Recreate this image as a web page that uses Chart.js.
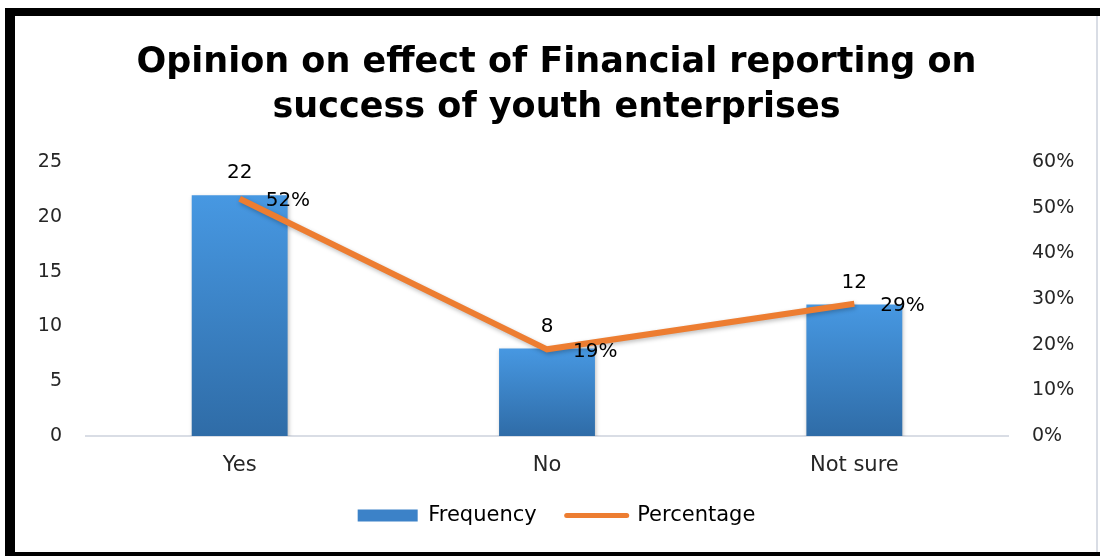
<!DOCTYPE html>
<html>
<head>
<meta charset="utf-8">
<script src="https://cdn.jsdelivr.net/npm/chart.js@4.4.1/dist/chart.umd.min.js"></script>
<style>
  html, body { margin: 0; padding: 0; background: #fff; }
  #wrap { position: relative; width: 1100px; height: 556px; }
</style>
</head>
<body>
<div id="wrap"><canvas id="opinionChart"></canvas></div>
<script>
const categories = ["Yes", "No", "Not sure"];
const frequency = [22, 8, 12];
const percentage = [52, 19, 29];
const freqTicks = { min: 0, max: 25, step: 5 };
const pctTicks = { min: 0, max: 60, step: 10 };

const FONT = "'DejaVu Sans', sans-serif";

// black frame round the chart
const framePlugin = {
  id: "frame",
  beforeDraw(chart) {
    const c = chart.ctx;
    c.save();
    c.fillStyle = "#fff";
    c.fillRect(0, 0, chart.width, chart.height);
    c.fillStyle = "#d9dde5";
    c.fillRect(1096, 16, 2, 536);
    c.fillStyle = "#000";
    c.fillRect(5, 8, chart.width - 5, 8);
    c.fillRect(5, 8, 10, chart.height - 8);
    c.fillRect(5, 552, chart.width - 5, 4);
    c.restore();
  }
};

// soft shadow under the bars and the line
const shadowPlugin = {
  id: "shadow",
  beforeDatasetDraw(chart) {
    const c = chart.ctx;
    c.save();
    c.shadowColor = "rgba(0,0,0,0.25)";
    c.shadowBlur = 4;
    c.shadowOffsetX = 1;
    c.shadowOffsetY = 2;
  },
  afterDatasetDraw(chart) {
    chart.ctx.restore();
  }
};

// value labels: counts above bars, percentages beside line points
const valueLabels = {
  id: "valueLabels",
  afterDatasetsDraw(chart) {
    const c = chart.ctx;
    c.save();
    c.font = "20px " + FONT;
    c.fillStyle = "#000";
    c.textBaseline = "middle";
    chart.getDatasetMeta(0).data.forEach((bar, i) => {
      c.textAlign = "center";
      c.fillText(String(frequency[i]), bar.x, bar.y - 22);
    });
    chart.getDatasetMeta(1).data.forEach((pt, i) => {
      c.textAlign = "left";
      c.fillText(percentage[i] + "%", pt.x + 26, pt.y + 2);
    });
    c.restore();
  }
};

function barGradient(ctx) {
  const chart = ctx.chart;
  const area = chart.chartArea;
  if (!area || ctx.raw === undefined) return "#3d84ca";
  const top = chart.scales.y.getPixelForValue(ctx.raw);
  const g = chart.ctx.createLinearGradient(0, top, 0, area.bottom);
  g.addColorStop(0, "#4798e2");
  g.addColorStop(1, "#2f6ca7");
  return g;
}

new Chart(document.getElementById("opinionChart"), {
  data: {
    labels: categories,
    datasets: [
      {
        type: "bar",
        label: "Frequency",
        data: frequency,
        yAxisID: "y",
        backgroundColor: barGradient,
        categoryPercentage: 1,
        barPercentage: 0.312,
        order: 2
      },
      {
        type: "line",
        label: "Percentage",
        data: percentage,
        yAxisID: "y1",
        borderColor: "#ed7d31",
        borderWidth: 6,
        pointRadius: 0,
        tension: 0,
        fill: false,
        order: 1
      }
    ]
  },
  options: {
    responsive: true,
    maintainAspectRatio: false,
    animation: false,
    layout: { padding: { top: 22, left: 23, right: 10, bottom: 20 } },
    scales: {
      x: {
        grid: { display: false, drawTicks: false },
        border: { display: true, color: "#d9dde5", width: 2 },
        ticks: { color: "#262626", font: { family: FONT, size: 21 }, padding: 17 },
        afterFit(scale) { scale.height = 59; }
      },
      y: {
        position: "left",
        min: freqTicks.min,
        max: freqTicks.max,
        grid: { display: false, drawTicks: false },
        border: { display: false },
        ticks: { stepSize: freqTicks.step, color: "#262626", font: { family: FONT, size: 19 }, padding: 24 },
        afterFit(scale) { scale.width = 63; }
      },
      y1: {
        position: "right",
        min: pctTicks.min,
        max: pctTicks.max,
        grid: { display: false, drawTicks: false },
        border: { display: false },
        ticks: {
          stepSize: pctTicks.step,
          color: "#262626",
          font: { family: FONT, size: 19 },
          padding: 24,
          callback: (v) => v + "%"
        },
        afterFit(scale) { scale.width = 82; }
      }
    },
    plugins: {
      title: {
        display: true,
        text: ["Opinion on effect of Financial reporting on", "success of youth enterprises"],
        color: "#000",
        font: { family: FONT, size: 35, weight: "bold", lineHeight: 1.29 },
        padding: { top: 18, bottom: 32 }
      },
      legend: {
        position: "bottom",
        labels: {
          color: "#262626",
          font: { family: FONT, size: 21 },
          usePointStyle: true,
          pointStyleWidth: 60,
          boxHeight: 12,
          padding: 10,
          generateLabels() {
            return [
              { text: "Frequency   ", pointStyle: "rect", fillStyle: "#3c82c8", strokeStyle: "#3c82c8", lineWidth: 0, datasetIndex: 0 },
              { text: "Percentage", pointStyle: "line", fillStyle: "#ed7d31", strokeStyle: "#ed7d31", lineWidth: 5, lineCap: "round", datasetIndex: 1 }
            ];
          }
        }
      },
      tooltip: { enabled: false }
    }
  },
  plugins: [framePlugin, shadowPlugin, valueLabels]
});
</script>
</body>
</html>
